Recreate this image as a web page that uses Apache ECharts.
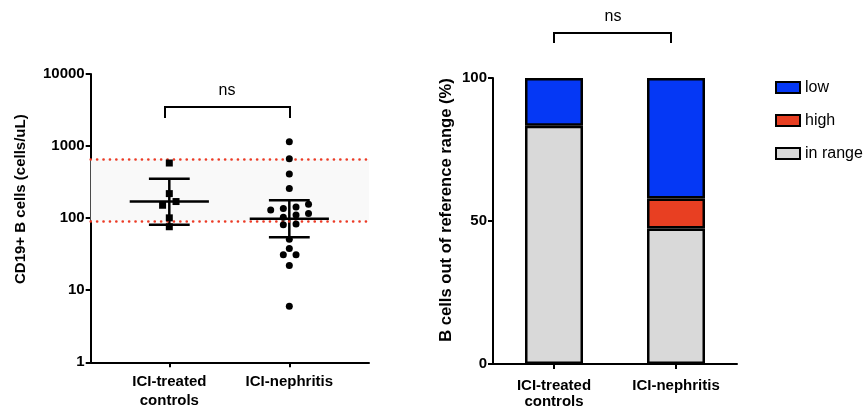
<!DOCTYPE html>
<html>
<head>
<meta charset="utf-8">
<script src="https://cdn.jsdelivr.net/npm/echarts@6/dist/echarts.min.js"></script>
<style>
	html, body { margin: 0; padding: 0; background: #fff; }
	#chart { width: 864px; height: 407px; }
</style>
</head>
<body>
<div id="chart"></div>
<script>
// groups on both panels
const groups = ["ICI-treated\ncontrols", "ICI-nephritis"];

// left panel: CD19+ B cells (cells/uL), one value per patient
const controlCells = [582, 219, 170, 151, 101, 76];
const controlJitter = [0, 0, 0.056, -0.056, 0, 0];
const nephritisCells = [1147, 667, 410, 257, 156, 143, 136, 130, 116, 111, 103, 83, 81, 51, 38, 31, 31, 22, 6];
const nephritisJitter = [0, 0, 0, 0, 0.16, 0.056, -0.05, -0.155, 0.16, 0.056, -0.05, 0.056, -0.05, 0, 0, -0.05, 0.056, 0, 0];

// median with error bars, per group
const medians = [170, 98];
const upperBars = [353, 177];
const lowerBars = [81, 54.5];

// reference range for B cells
const refRange = [92, 660];

// right panel: share of patients (%)
const inRange = [83.3, 47.4];
const high = [0, 10.5];
const low = [16.7, 42.1];

const FONT = "'Liberation Sans', Arial, sans-serif";
const axisLine = { show: true, lineStyle: { color: "#000", width: 2 } };
const axisTick = { show: true, inside: false, length: 5, lineStyle: { color: "#000", width: 2 } };
const boldLabel = { color: "#000", fontFamily: FONT, fontWeight: "bold", fontSize: 15 };

const chart = echarts.init(document.getElementById("chart"), null, { renderer: "canvas" });

const pointsOf = (vals, jitter, pos) => vals.map((v, i) => [pos + jitter[i], v]);

chart.setOption({
	animation : false,
	textStyle : { fontFamily: FONT },
	grid      : [
		{ left: 90.7, top: 74, width: 278.3, height: 288.3, outerBoundsMode: "none", containLabel: false },
		{ left: 493, top: 78, width: 244, height: 286, outerBoundsMode: "none", containLabel: false },
	],
	xAxis: [
		{
			gridIndex : 0,
			type      : "value",
			min       : 0.345,
			max       : 2.664,
			splitLine : { show: false },
			axisLine,
			axisTick  : { ...axisTick, customValues: [1, 2] },
			axisLabel : {
				...boldLabel,
				customValues : [1, 2],
				margin       : 10,
				lineHeight   : 19,
				formatter    : v => groups[Math.round(v) - 1] ?? "",
			},
		},
		{
			gridIndex   : 1,
			type        : "category",
			data        : groups,
			boundaryGap : true,
			axisLine,
			axisTick    : { ...axisTick, alignWithLabel: true },
			axisLabel   : { ...boldLabel, margin: 13.5, lineHeight: 16 },
		},
	],
	yAxis: [
		{
			gridIndex     : 0,
			type          : "log",
			logBase       : 10,
			min           : 1,
			max           : 10000,
			splitLine     : { show: false },
			minorTick     : { show: false },
			axisLine,
			axisTick,
			axisLabel     : { ...boldLabel, margin: 6, formatter: v => String(v) },
			name          : "CD19+ B cells (cells/uL)",
			nameLocation  : "middle",
			nameGap       : 62,
			nameTextStyle : { ...boldLabel, fontSize: 15, padding: [0, 0, 0, 38] },
		},
		{
			gridIndex     : 1,
			type          : "value",
			min           : 0,
			max           : 100,
			interval      : 50,
			splitLine     : { show: false },
			axisLine,
			axisTick,
			axisLabel     : { ...boldLabel, margin: 6 },
			name          : "B cells out of reference range (%)",
			nameLocation  : "middle",
			nameGap       : 38,
			nameTextStyle : { ...boldLabel, fontSize: 16.6, padding: [0, 0, 0, 22] },
		},
	],
	legend: {
		orient     : "vertical",
		left       : 770,
		top        : 74.5,
		itemWidth  : 24,
		itemHeight : 11,
		itemGap    : 17,
		icon       : "rect",
		data       : ["low", "high", "in range"],
		textStyle  : { color: "#000", fontSize: 16, fontFamily: FONT },
	},
	series: [
		{
			name       : "controls",
			type       : "scatter",
			xAxisIndex : 0,
			yAxisIndex : 0,
			symbol     : "rect",
			symbolSize : 7,
			z          : 5,
			itemStyle  : { color: "#000", opacity: 1 },
			data       : pointsOf(controlCells, controlJitter, 1),
			markArea   : {
				silent    : true,
				itemStyle : { color: "#f9f9f9" },
				data      : [[{ yAxis: refRange[0] }, { yAxis: refRange[1] }]],
			},
			markLine: {
				silent    : true,
				symbol    : "none",
				label     : { show: false },
				lineStyle : { color: "#ec3b26", width: 2.6, type: [0.1, 6.3], cap: "round" },
				data      : refRange.map(v => ({ yAxis: v })),
			},
		},
		{
			name       : "nephritis",
			type       : "scatter",
			xAxisIndex : 0,
			yAxisIndex : 0,
			symbol     : "circle",
			symbolSize : 7,
			z          : 5,
			itemStyle  : { color: "#000", opacity: 1 },
			data       : pointsOf(nephritisCells, nephritisJitter, 2),
		},
		{
			name         : "median",
			type         : "custom",
			xAxisIndex   : 0,
			yAxisIndex   : 0,
			z            : 4,
			data         : medians.map((m, i) => [i + 1, m, lowerBars[i], upperBars[i]]),
			renderItem   : (params, api) => {
				const x = api.value(0);
				const style = { stroke: "#000", lineWidth: 2.5, fill: null };
				const seg = (a, b) => {
					const p1 = api.coord(a);
					const p2 = api.coord(b);
					return { type: "line", shape: { x1: p1[0], y1: p1[1], x2: p2[0], y2: p2[1] }, style };
				};
				return {
					type     : "group",
					children : [
						seg([x - 0.33, api.value(1)], [x + 0.33, api.value(1)]),
						seg([x, api.value(2)], [x, api.value(3)]),
						seg([x - 0.17, api.value(2)], [x + 0.17, api.value(2)]),
						seg([x - 0.17, api.value(3)], [x + 0.17, api.value(3)]),
					],
				};
			},
		},
		{
			name       : "in range",
			type       : "bar",
			xAxisIndex : 1,
			yAxisIndex : 1,
			stack      : "b",
			barWidth   : 58,
			itemStyle  : { color: "#d9d9d9", borderColor: "#000", borderWidth: 2.5 },
			data       : inRange,
		},
		{
			name       : "high",
			type       : "bar",
			xAxisIndex : 1,
			yAxisIndex : 1,
			stack      : "b",
			barWidth   : 58,
			itemStyle  : { color: "#e83f22", borderColor: "#000", borderWidth: 2.5 },
			data       : high.map(v => (v ? v : "-")),
		},
		{
			name       : "low",
			type       : "bar",
			xAxisIndex : 1,
			yAxisIndex : 1,
			stack      : "b",
			barWidth   : 58,
			itemStyle  : { color: "#0538f5", borderColor: "#000", borderWidth: 2.5 },
			data       : low,
		},
	],
	// significance brackets
	graphic: [
		{ type: "polyline", shape: { points: [[165, 118], [165, 107], [290, 107], [290, 118]] }, style: { stroke: "#000", lineWidth: 2, fill: null } },
		{ type: "text", x: 227, y: 91, style: { text: "ns", font: `16px ${FONT}`, fill: "#000", align: "center", verticalAlign: "middle" } },
		{ type: "polyline", shape: { points: [[554, 43], [554, 33], [671, 33], [671, 43]] }, style: { stroke: "#000", lineWidth: 2, fill: null } },
		{ type: "text", x: 613, y: 17, style: { text: "ns", font: `16px ${FONT}`, fill: "#000", align: "center", verticalAlign: "middle" } },
	],
});
</script>
</body>
</html>
